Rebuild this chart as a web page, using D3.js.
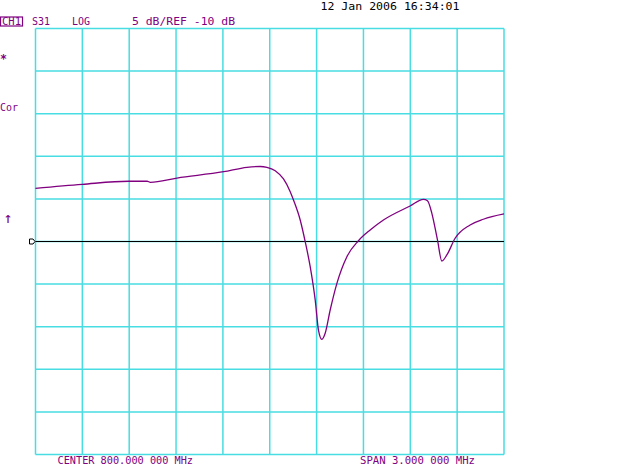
<!DOCTYPE html>
<html><head><meta charset="utf-8">
<script src="https://cdn.jsdelivr.net/npm/d3@7"></script>
<style>
html,body{margin:0;padding:0;background:#fff;}
svg{display:block;}
text{font-family:"DejaVu Sans Mono",monospace;}
</style></head>
<body>
<script>
// Data: frequency (MHz) and S31 magnitude (dB)
const freqMHz = [798.500,798.799,799.097,799.215,799.236,799.406,799.705,799.854,799.939,799.982,800.035,800.088,800.131,800.152,800.195,800.227,800.259,800.291,800.312,800.334,800.355,800.387,800.430,800.494,800.568,800.643,800.728,800.899,800.984,801.010,801.038,801.074,801.102,801.134,801.187,801.283,801.368,801.500];
const s31dB   = [-3.76,-3.29,-2.93,-2.93,-3.05,-2.55,-1.81,-1.29,-1.20,-1.29,-1.69,-2.66,-4.15,-5.13,-7.48,-10.02,-12.96,-16.87,-20.39,-21.48,-20.77,-18.04,-14.91,-11.78,-9.91,-8.65,-7.48,-5.83,-5.05,-5.21,-6.69,-9.82,-12.29,-11.58,-9.62,-8.06,-7.39,-6.77];
const freqTicks = [798.5,798.8,799.1,799.4,799.7,800.0,800.3,800.6,800.9,801.2,801.5];
const dbTicks = [-35,-30,-25,-20,-15,-10,-5,0,5,10,15];
const refLevel = -10;
const headerLabels = ["S31","LOG","5 dB/REF -10 dB"];
const dateLabel = "12 Jan 2006  16:34:01";
const footerLabels = ["CENTER 800.000 000 MHz","SPAN  3.000 000 MHz"];

const W=640,H=465;
const svg=d3.select("body").append("svg").attr("width",W).attr("height",H);
const x=d3.scaleLinear().domain([798.5,801.5]).range([35.5,504]);
const y=d3.scaleLinear().domain([-35,15]).range([454.5,28.5]);
const grid="#48dde2", purple="#800080";

const g=svg.append("g");
g.selectAll("line.v").data(freqTicks).join("line")
 .attr("x1",d=>x(d)).attr("x2",d=>x(d)).attr("y1",y(15)).attr("y2",y(-35))
 .attr("stroke",grid).attr("stroke-width",1.5);
g.selectAll("line.h").data(dbTicks).join("line")
 .attr("x1",x(798.5)).attr("x2",x(801.5)).attr("y1",d=>y(d)).attr("y2",d=>y(d))
 .attr("stroke",grid).attr("stroke-width",1.5);

// reference line
svg.append("line").attr("x1",x(798.5)).attr("x2",x(801.5)).attr("y1",y(refLevel)).attr("y2",y(refLevel))
 .attr("stroke","#000").attr("stroke-width",1.2);
const ry=y(refLevel);
svg.append("path").attr("d",`M29.5,${ry-2.5}L33,${ry-2.5}L35,${ry}L33,${ry+2.5}L29.5,${ry+2.5}Z`)
 .attr("fill","none").attr("stroke","#000").attr("stroke-width",1);

// trace
const line=d3.line().x((d,i)=>x(freqMHz[i])).y(d=>y(d)).curve(d3.curveMonotoneX);
svg.append("path").datum(s31dB).attr("d",line).attr("fill","none")
 .attr("stroke",purple).attr("stroke-width",1.3);

// texts
const t=(s,xx,yy,len,fill,size)=>svg.append("text").text(s).attr("x",xx).attr("y",yy)
 .attr("fill",fill||purple).attr("font-size",size||10.5)
 .attr("textLength",len||null).attr("lengthAdjust","spacingAndGlyphs");
svg.append("rect").attr("x",0.5).attr("y",17).attr("width",22).attr("height",9)
 .attr("fill","none").attr("stroke",purple).attr("stroke-width",1.2);
t("CH1",2,25,19);
t(headerLabels[0],32,25,18);
t(headerLabels[1],72,25,18);
t(headerLabels[2],132,25,103);
t(dateLabel,320.5,10,139,"#000",10);
t("*",0,63,7,purple,13).attr("font-weight","bold");
t("Cor",0,111,18);
t("\u2191",3.5,223,null,purple,15);
t(footerLabels[0],57.5,463.5,135.5,purple,10);
t(footerLabels[1],360,463.5,115,purple,10);
</script>
</body></html>
